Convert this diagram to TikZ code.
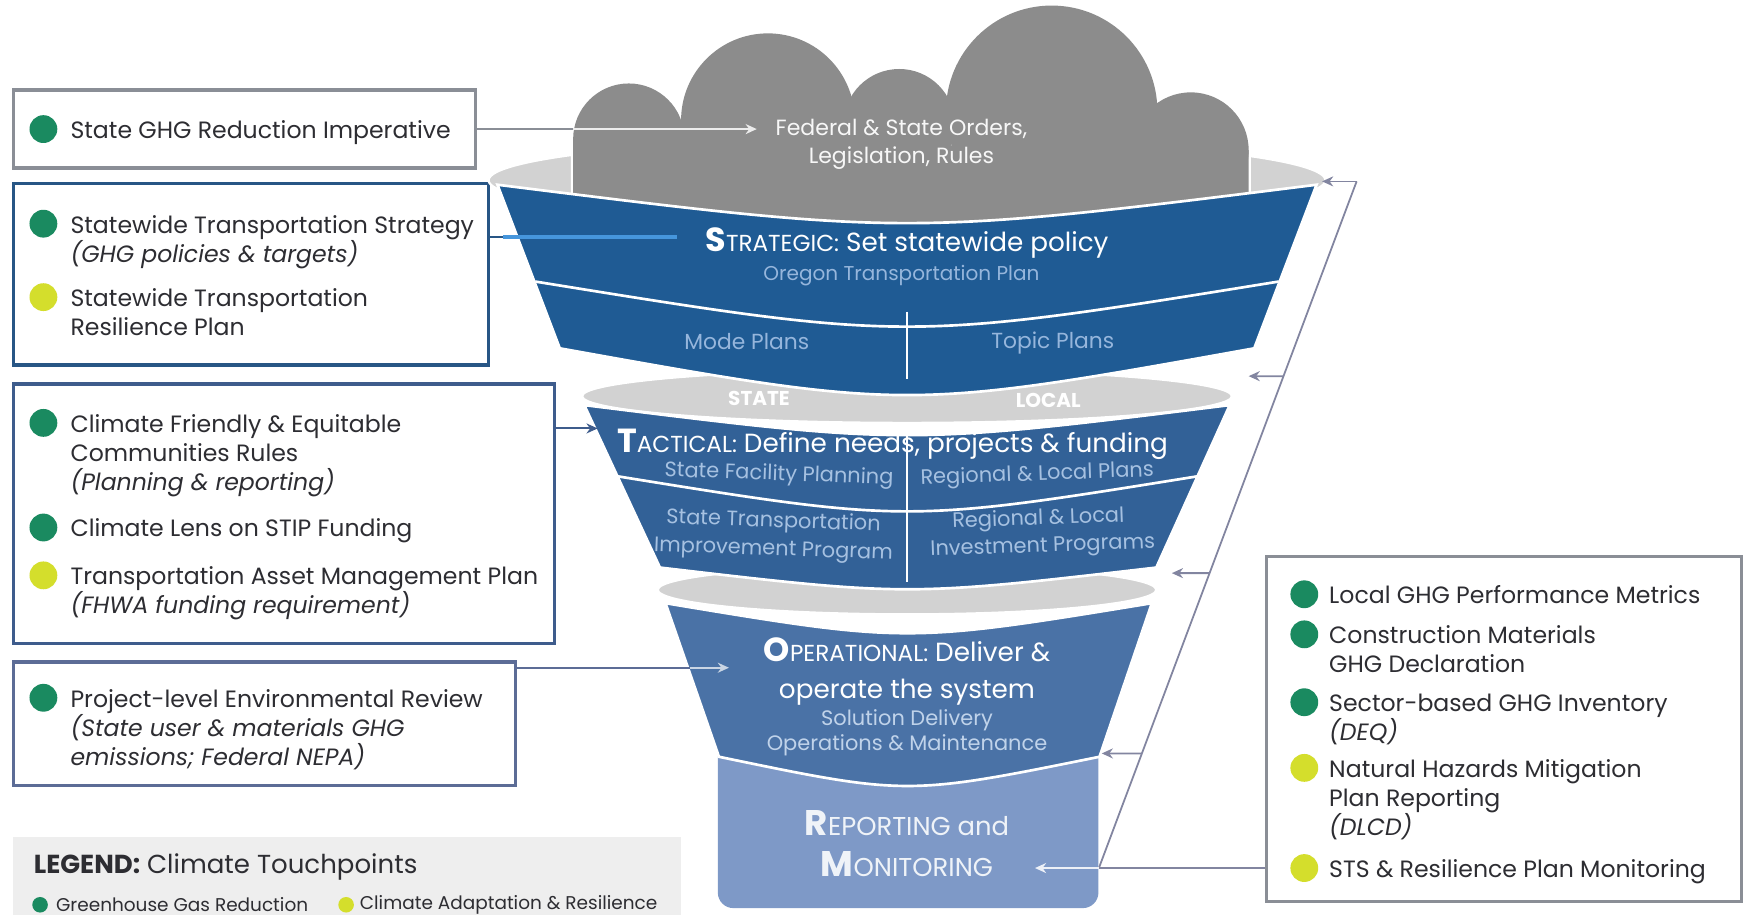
\documentclass[tikz,border=0pt]{standalone}
\usepackage{fontspec}
\setmainfont{Poppins}
\usetikzlibrary{calc,arrows.meta}

\definecolor{ghg}{RGB}{26,138,96}
\definecolor{res}{RGB}{212,222,44}
\definecolor{txt}{RGB}{45,45,50}
\definecolor{stratblue}{RGB}{31,91,148}
\definecolor{tactblue}{RGB}{50,97,151}
\definecolor{operblue}{RGB}{74,114,166}
\definecolor{repblue}{RGB}{126,153,199}
\definecolor{rimgray}{RGB}{210,210,210}
\definecolor{cloudgray}{RGB}{140,140,140}
\definecolor{boxgray}{RGB}{138,142,150}
\definecolor{boxnavy}{RGB}{40,86,133}
\definecolor{boxsteel}{RGB}{62,92,140}
\definecolor{boxslate}{RGB}{92,108,150}
\definecolor{fbline}{RGB}{130,133,160}
\definecolor{subblue}{RGB}{150,182,220}
\definecolor{glowblue}{RGB}{70,150,220}
\definecolor{legbg}{RGB}{238,238,238}

\newcommand{\leadcap}[2]{{\fontsize{15}{13}\selectfont\bfseries #1}{\fontsize{10.4}{12}\selectfont #2}}
\newcommand{\repcap}[2]{{\fontsize{16}{13}\selectfont\bfseries #1}{\fontsize{11.6}{12}\selectfont #2}}

\tikzset{
  item/.style={anchor=north west, align=left, inner sep=0pt, text=txt, font=\fontsize{10.6}{13}\selectfont},
  gdot/.style={circle, fill=ghg, minimum size=12.5pt, inner sep=0pt},
  ydot/.style={circle, fill=res, minimum size=12.5pt, inner sep=0pt},
  tbox/.style={draw=#1, line width=1.5pt, fill=white, inner sep=0pt},
  band/.style={fill=#1, draw=white, line width=1.2pt},
  rim/.style={fill=rimgray, draw=white, line width=1pt},
  ftitle/.style={text=white, align=center, font=\fontsize{11.8}{16.5}\selectfont, inner sep=0pt},
  fsub/.style={text=subblue, align=center, font=\fontsize{9.4}{12}\selectfont, inner sep=0pt},
  fb/.style={draw=fbline, line width=0.8pt},
  tip/.style={-{Stealth[length=5pt, width=4.5pt]}},
}

\begin{document}
\begin{tikzpicture}[x=0.5pt, y=-0.5pt]
\useasboundingbox (0,0) rectangle (1568,822);

% legend
\fill[legbg] (12,752) rectangle (612,822);
\node[item, anchor=west, font=\fontsize{11.7}{13}\selectfont] (leg) at (30,779) {\textbf{LEGEND:} Climate Touchpoints};
\node[gdot, minimum size=7pt] (lg) at (36,813) {};
\node[item, anchor=west, font=\fontsize{8.3}{9}\selectfont] (lgt) at (50,813) {Greenhouse Gas Reduction};
\node[ydot, minimum size=7pt] (ly) at (311,813) {};
\node[item, anchor=west, font=\fontsize{8.3}{9}\selectfont] (lyt) at (323,813) {Climate Adaptation \& Resilience};

% touchpoint boxes
\node[tbox=boxgray, minimum width=207.5pt, minimum height=35pt] (b1) at (219.5,116) {};
\node[tbox=boxnavy, minimum width=213.5pt, minimum height=81.5pt] (b2) at (225.5,246.5) {};
\node[tbox=boxsteel, minimum width=243pt, minimum height=116.5pt] (b3) at (255,461.5) {};
\node[tbox=boxslate, minimum width=225.5pt, minimum height=55.5pt] (b4) at (237.5,650.5) {};
\node[tbox=boxgray, minimum width=213.5pt, minimum height=155pt] (rb) at (1351.5,655) {};

% left items
\node[gdot] (i1d) at (39,116) {};
\node[item] (i1) at (63,108) {State GHG Reduction Imperative};
\node[gdot] (i2d) at (39,201) {};
\node[item] (i2) at (63,193) {Statewide Transportation Strategy\\\textit{(GHG policies \& targets)}};
\node[ydot] (i3d) at (39,267) {};
\node[item] (i3) at (63,259) {Statewide Transportation\\Resilience Plan};
\node[gdot] (i4d) at (39,380) {};
\node[item] (i4) at (63,372) {Climate Friendly \& Equitable\\Communities Rules\\\textit{(Planning \& reporting)}};
\node[gdot] (i5d) at (39,474) {};
\node[item] (i5) at (63,466) {Climate Lens on STIP Funding};
\node[ydot] (i6d) at (39,517) {};
\node[item] (i6) at (63,509) {Transportation Asset Management Plan\\\textit{(FHWA funding requirement)}};
\node[gdot] (i7d) at (39,627) {};
\node[item] (i7) at (63,619) {Project-level Environmental Review\\\textit{(State user \& materials GHG}\\\textit{emissions; Federal NEPA)}};

% right items
\node[gdot] (r1d) at (1172,534) {};
\node[item] (r1) at (1194,526) {Local GHG Performance Metrics};
\node[gdot] (r2d) at (1172,570) {};
\node[item] (r2) at (1194,562) {Construction Materials\\GHG Declaration};
\node[gdot] (r3d) at (1172,631) {};
\node[item] (r3) at (1194,623) {Sector-based GHG Inventory\\\textit{(DEQ)}};
\node[ydot] (r4d) at (1172,690) {};
\node[item] (r4) at (1194,682) {Natural Hazards Mitigation\\Plan Reporting\\\textit{(DLCD)}};
\node[ydot] (r5d) at (1172,780) {};
\node[item] (r5) at (1194,772) {STS \& Resilience Plan Monitoring};

% funnel, bottom up
\node[fill=repblue, rounded corners=7pt, minimum width=171pt, minimum height=78pt, inner sep=0pt] (rep) at (816,738) {};
\filldraw[rim] (815,530) ellipse (224 and 22);
\filldraw[band=operblue] (598,542) .. controls (815,578) .. (1035,542) -- (988,680) .. controls (815,715) .. (646,680) -- cycle;
\filldraw[rim] (815,356) ellipse (292 and 24);
\filldraw[band=tactblue] (525,364) .. controls (815,400) .. (1105,364) -- (1039,510) .. controls (815,536) .. (593,510) -- cycle;
\draw[white, line width=1.2pt] (555,428) .. controls (815,470) .. (1076,428);
\draw[white, line width=1pt] (815,382) -- (815,523);
\filldraw[rim] (815,162) ellipse (376 and 38);
% cloud
\foreach \cx/\cy/\r in {565/125/50, 690/108/78, 808/112/50, 945/100/95, 1070/135/52}
  \draw[white, line width=2pt] (\cx,\cy) circle (\r);
\draw[white, line width=2pt] (515,125) -- (1122,135) -- (1122,200) -- (515,200) -- cycle;
\foreach \cx/\cy/\r in {565/125/50, 690/108/78, 808/112/50, 945/100/95, 1070/135/52}
  \fill[cloudgray] (\cx,\cy) circle (\r);
\fill[cloudgray] (515,125) -- (1122,135) -- (1122,200) -- (515,200) -- cycle;
\filldraw[band=stratblue] (447,166) .. controls (815,212) .. (1183,166) -- (1127,313) .. controls (815,369) .. (503,313) -- cycle;
\draw[white, line width=1.2pt] (481,253) .. controls (815,307) .. (1149,253);
\draw[white, line width=1pt] (815,280) -- (815,341);

% funnel texts
\node[text=white!94!gray, align=center, inner sep=0pt, font=\fontsize{9.9}{12.5}\selectfont] (cl) at (810,129.5) {Federal \& State Orders,\\Legislation, Rules};
\node[ftitle] (stt) at (815,218) {\leadcap{S}{TRATEGIC:} Set statewide policy};
\node[fsub, font=\fontsize{9}{12}\selectfont] (sts) at (810,248) {Oregon Transportation Plan};
\node[fsub, font=\fontsize{9.8}{12}\selectfont] (smode) at (671,307) {Mode Plans};
\node[fsub, font=\fontsize{9.8}{12}\selectfont] (stopic) at (946,308) {Topic Plans};
\node[text=white, inner sep=0pt, font=\fontsize{9}{9}\selectfont\bfseries] (tstate) at (682,358) {STATE};
\node[text=white, inner sep=0pt, font=\fontsize{9}{9}\selectfont\bfseries] (tlocal) at (942,360) {LOCAL};
\node[ftitle] (ttt) at (802,399) {\leadcap{T}{ACTICAL:}\ Define needs, projects \& funding};
\node[fsub, text=subblue!85!white, rotate=-2] (tsf) at (700,427) {State Facility Planning};
\node[fsub, text=subblue!85!white, rotate=2] (trl) at (932,427) {Regional \& Local Plans};
\node[fsub, text=subblue!85!white, rotate=-2] (tstip1) at (695,469) {State Transportation};
\node[fsub, text=subblue!85!white, rotate=-2] (tstip2) at (695,495) {Improvement Program};
\node[fsub, text=subblue!85!white, rotate=2] (trip1) at (933,467) {Regional \& Local};
\node[fsub, text=subblue!85!white, rotate=2] (trip2) at (937,492) {Investment Programs};
\node[ftitle] (opt) at (815,603.5) {\leadcap{O}{PERATIONAL:} Deliver \&\\operate the system};
\node[fsub, text=subblue!60!white, font=\fontsize{9.4}{11.5}\selectfont] (ops) at (815,658.5) {Solution Delivery\\Operations \& Maintenance};
\node[ftitle, text=white!88!repblue, font=\fontsize{11.6}{18}\selectfont] (rept) at (815,758) {\repcap{R}{EPORTING} and\\\repcap{M}{ONITORING}};

% connectors into the funnel
\coordinate (cEdge) at (515,116);
\coordinate (cTip) at (680,116);
\draw[boxgray, line width=0.9pt] (b1.east) -- (cEdge);
\draw[tip, white!85!gray, line width=0.9pt] (cEdge) -- (cTip);
\coordinate (sEdge) at (452,213);
\coordinate (sTip) at (608,213);
\draw[boxnavy, line width=1pt] (b2.east |- sEdge) -- (sEdge);
\draw[glowblue, line width=1.5pt] (sEdge) -- (sTip);
\coordinate (tTip) at (537,385);
\draw[tip, boxsteel, line width=0.9pt] (b3.east |- tTip) -- (tTip);
\coordinate (oEdge) at (620,600);
\coordinate (oTip) at (655,600);
\draw[boxslate, line width=0.9pt] (b4.east |- oEdge) -- (oEdge);
\draw[tip, white!70!operblue, line width=0.9pt] (oEdge) -- (oTip);

% feedback from reporting
\coordinate (rIn) at (rep.east |- r5d);
\coordinate (rTip) at (930,780);
\coordinate (fbTop) at (1219,163);
\coordinate (sCorner) at (1188,163);
\draw[fb] (rb.west |- r5d) -- (rIn) -- (fbTop);
\draw[fb, tip] (fbTop) -- (sCorner);
\draw[tip, white!85!repblue, line width=0.9pt] (rIn) -- (rTip);
\foreach \y/\x in {338/1122, 515/1053, 677/990}
  \draw[fb, tip] ($(rIn)!{(780-\y)/617}!(fbTop)$) -- (\x,\y);
\end{tikzpicture}
\end{document}
